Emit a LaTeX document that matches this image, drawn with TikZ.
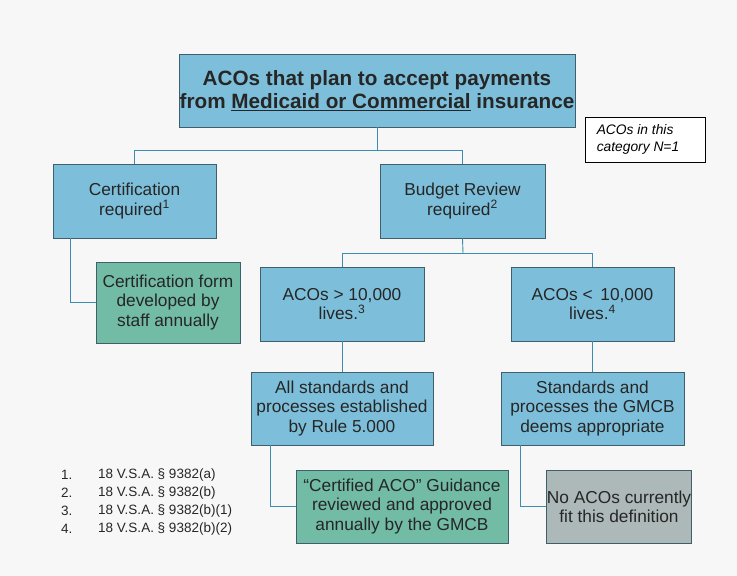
\documentclass[tikz,border=0pt]{standalone}
\usepackage{fontspec}
\setmainfont{Liberation Sans}
\begin{document}
\begin{tikzpicture}[x=1pt,y=-1pt,
  bluebox/.style={draw=boxedge,fill=boxblue,line width=0.9pt,align=center,inner sep=0pt,text=black!85},
  greenbox/.style={bluebox,fill=boxgreen},
  greybox/.style={bluebox,fill=boxgrey},
  link/.style={draw=linkblue,line width=0.9pt},
  every node/.append style={font=\fontsize{17.3}{19.3}\selectfont}]
\definecolor{boxblue}{HTML}{7DBFDA}
\definecolor{boxgreen}{HTML}{72BBA5}
\definecolor{boxgrey}{HTML}{ADB8B8}
\definecolor{boxedge}{HTML}{3F5F6C}
\definecolor{linkblue}{HTML}{3C8CAE}
\definecolor{bg}{HTML}{F7F7F7}
\fill[bg] (0,0) rectangle (737,576);
\useasboundingbox (0,0) rectangle (737,576);
% boxes
\node[bluebox,minimum width=396pt,minimum height=73pt,font=\bfseries\fontsize{20.7}{23.5}\selectfont] (top) at (377,90.5)
  {ACOs that plan to accept payments\\from \underline{Medicaid or Commercial} insurance};
\node[draw=black,fill=white,line width=0.8pt,minimum width=120pt,minimum height=45pt,align=left,inner sep=0pt,font=\itshape\fontsize{13.8}{16.5}\selectfont] (note) at (645,139.5)
  {ACOs in this\\category N=1\hspace*{14pt}};
\node[bluebox,minimum width=163pt,minimum height=74pt] (cert) at (134.5,201) {Certification\\required\textsuperscript{1}};
\node[bluebox,minimum width=165pt,minimum height=74pt] (budget) at (462.5,201) {Budget Review\\required\textsuperscript{2}};
\node[greenbox,minimum width=144pt,minimum height=81pt] (form) at (168,302.5) {Certification form\\developed by\\staff annually};
\node[bluebox,minimum width=164pt,minimum height=74pt] (big) at (342,304) {ACOs > 10,000\\lives.\textsuperscript{3}};
\node[bluebox,minimum width=163pt,minimum height=74pt] (small) at (592.5,304) {ACOs < \,10,000\\lives.\textsuperscript{4}};
\node[bluebox,minimum width=182pt,minimum height=73pt] (allstd) at (342,408.5) {All standards and\\processes established\\by Rule 5.000};
\node[bluebox,minimum width=183pt,minimum height=73pt] (std) at (592.5,408.5) {Standards and\\processes the GMCB\\deems appropriate};
\node[greenbox,minimum width=212pt,minimum height=73pt] (guid) at (402,506.5) {``Certified ACO'' Guidance\\reviewed and approved\\annually by the GMCB};
\node[greybox,minimum width=144pt,minimum height=73pt] (none) at (619,506.5) {No ACOs currently\\fit this definition};
% connectors
\coordinate (j1) at (377,150);
\coordinate (j2) at (463,253);
\draw[link] (top.south) -- (j1);
\draw[link] (j1) -| (cert.north);
\draw[link] (j1) -| (budget.north);
\draw[link] (budget.south) -- (j2);
\draw[link] (j2) -| (big.north);
\draw[link] (j2) -| (small.north);
\draw[link] (big.south) -- (allstd.north);
\draw[link] (small.south) -- (std.north);
\draw[link] (cert.south -| 70,0) |- (form.west);
\draw[link] (allstd.south -| 270,0) |- (guid.west);
\draw[link] (std.south -| 520,0) |- (none.west);
% footnotes
\begin{scope}[every node/.style={font=\fontsize{13.5}{15}\selectfont,anchor=west,inner sep=0pt,text=black!85}]
\node (f1n) at (61,475) {1.}; \node (f1) at (98,475) {18 V.S.A. § 9382(a)};
\node (f2n) at (61,493) {2.}; \node (f2) at (98,493) {18 V.S.A. § 9382(b)};
\node (f3n) at (61,511) {3.}; \node (f3) at (98,511) {18 V.S.A. § 9382(b)(1)};
\node (f4n) at (61,529) {4.}; \node (f4) at (98,529) {18 V.S.A. § 9382(b)(2)};
\end{scope}
\end{tikzpicture}
\end{document}
